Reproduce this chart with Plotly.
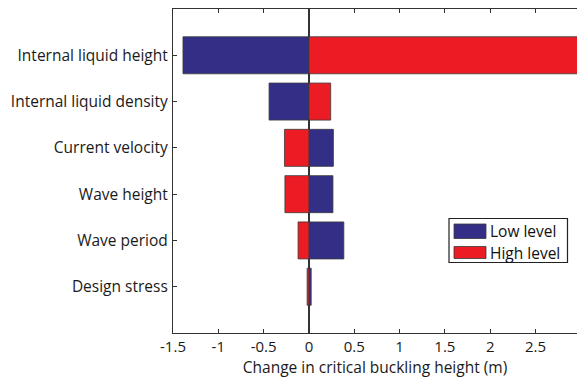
import plotly.graph_objects as go

categories = ["Internal liquid height", "Internal liquid density", "Current velocity",
              "Wave height", "Wave period", "Design stress"]
low_level = [-1.39, -0.44, 0.27, 0.265, 0.385, 0.025]
high_level = [3.2, 0.24, -0.27, -0.265, -0.12, -0.02]
x_ticks = [-1.5, -1, -0.5, 0, 0.5, 1, 1.5, 2, 2.5]
x_tick_labels = ["-1.5", "-1", "-0.5", "0", "0.5", "1", "1.5", "2", "2.5"]

BLUE = "#332f87"
RED = "#ec1c24"
EDGE = "#3a3a3a"
FONT = "Open Sans"

W, H = 577, 379
L, R, T, B = 173, 0, 9, 46
pw, ph = W - L - R, H - T - B

def px(x):
    return (x - L) / pw

def py(y):
    return (H - B - y) / ph

fig = go.Figure()
fig.add_trace(go.Bar(y=categories, x=low_level, orientation="h", name="Low level",
                     marker=dict(color=BLUE, line=dict(color=EDGE, width=0.8)),
                     width=0.8, showlegend=False))
fig.add_trace(go.Bar(y=categories, x=high_level, orientation="h", name="High level",
                     marker=dict(color=RED, line=dict(color=EDGE, width=0.8)),
                     width=0.8, showlegend=False))

# custom legend (large swatches like the original)
shapes = [
    dict(type="rect", xref="paper", yref="paper", x0=px(449), x1=px(567.5), y0=py(262.5), y1=py(218.5),
         line=dict(color="#222", width=1.2), fillcolor="white", layer="above"),
    dict(type="rect", xref="paper", yref="paper", x0=px(454), x1=px(486), y0=py(238.5), y1=py(224),
         line=dict(color=EDGE, width=0.8), fillcolor=BLUE, layer="above"),
    dict(type="rect", xref="paper", yref="paper", x0=px(454), x1=px(486), y0=py(258.5), y1=py(246.5),
         line=dict(color=EDGE, width=0.8), fillcolor=RED, layer="above"),
]
annotations = [
    dict(text="Low level", xref="paper", yref="paper", x=px(488), y=py(231), xanchor="left",
         yanchor="middle", showarrow=False, font=dict(family=FONT, size=15.5, color="#111")),
    dict(text="High level", xref="paper", yref="paper", x=px(488), y=py(252.5), xanchor="left",
         yanchor="middle", showarrow=False, font=dict(family=FONT, size=15.5, color="#111")),
]

fig.update_layout(
    width=W, height=H,
    margin=dict(l=L, r=R, t=T, b=B),
    paper_bgcolor="white", plot_bgcolor="white",
    barmode="overlay",
    font=dict(family=FONT, size=15, color="#1a1a1a"),
    shapes=shapes, annotations=annotations,
    xaxis=dict(range=[-1.5, 2.958], tickvals=x_ticks, ticktext=x_tick_labels,
               ticks="inside", ticklen=4, tickcolor="#333", showline=True, linecolor="#333",
               linewidth=1.2, mirror="ticks", showgrid=False,
               zeroline=True, zerolinecolor="#333", zerolinewidth=1.5,
               title=dict(text="Change in critical buckling height (m)", standoff=6,
                          font=dict(family=FONT, size=15.5)),
               tickfont=dict(family=FONT, size=15)),
    yaxis=dict(categoryorder="array", categoryarray=categories, range=[6, -1],
               ticks="inside", ticklen=4, tickcolor="#333", showline=True, linecolor="#333",
               linewidth=1.2, showgrid=False, zeroline=False, ticklabelstandoff=1,
               tickfont=dict(family=FONT, size=15.5)),
)

fig.write_html("out.html")
